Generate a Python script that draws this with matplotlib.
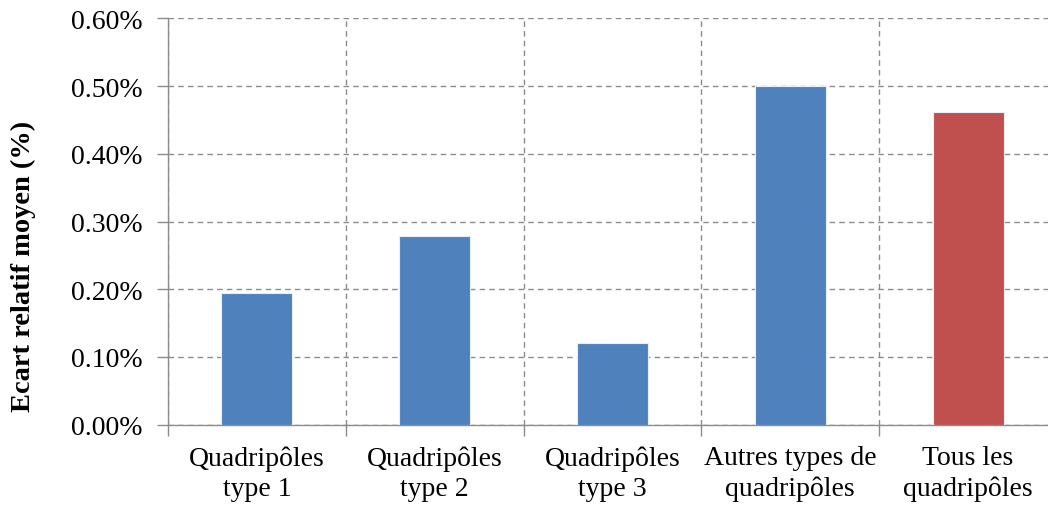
import matplotlib
matplotlib.use('Agg')
import matplotlib.pyplot as plt
import numpy as np
from matplotlib.ticker import FuncFormatter, MultipleLocator

# Données
categories = ['Quadripôles\ntype 1', 'Quadripôles\ntype 2', 'Quadripôles\ntype 3',
              'Autres types de\nquadripôles', 'Tous les\nquadripôles']
ecarts = [0.194, 0.278, 0.120, 0.500, 0.462]  # en %
couleurs = ['#4F81BD', '#4F81BD', '#4F81BD', '#4F81BD', '#C0504D']

plt.rcParams['font.family'] = ['Liberation Serif', 'DejaVu Serif']

fig = plt.figure(figsize=(10.48, 5.06), dpi=100)
ax = fig.add_axes([0.1603, 0.159, 0.8483, 0.8025])

x = np.arange(len(categories))
ax.bar(x, ecarts, width=0.4, color=couleurs, edgecolor='#E8EEF6', linewidth=0.8, zorder=3)

ax.set_xlim(-0.5, len(categories) - 0.5)
ax.set_ylim(0, 0.60)
ax.yaxis.set_major_locator(MultipleLocator(0.10))
ax.yaxis.set_major_formatter(FuncFormatter(lambda v, p: f'{v:.2f}%'))

ax.set_xticks(x)
ax.set_xticklabels(categories, fontsize=20, linespacing=1.25)
ax.set_xticks(np.arange(-0.5, len(categories)), minor=True)
ax.tick_params(axis='x', which='major', length=0, pad=15)
ax.tick_params(axis='x', which='minor', length=8, color='#8c8c8c', width=1, direction='out')
ax.tick_params(axis='y', length=8, color='#8c8c8c', width=1, labelsize=20, pad=10)

ax.grid(which='minor', axis='x', linestyle=(0, (4, 3)), color='#8c8c8c', linewidth=1, zorder=0)
ax.grid(which='major', axis='y', linestyle=(0, (4, 3)), color='#8c8c8c', linewidth=1, zorder=0)
ax.set_axisbelow(True)

for s in ['top', 'right']:
    ax.spines[s].set_visible(False)
for s in ['left', 'bottom']:
    ax.spines[s].set_color('#8c8c8c')
    ax.spines[s].set_linewidth(1)

ax.set_ylabel('Ecart relatif moyen (%)', fontsize=20.5, fontweight='bold')
ax.yaxis.set_label_coords(-0.148, 0.393)

fig.savefig('out.png', dpi=100)
